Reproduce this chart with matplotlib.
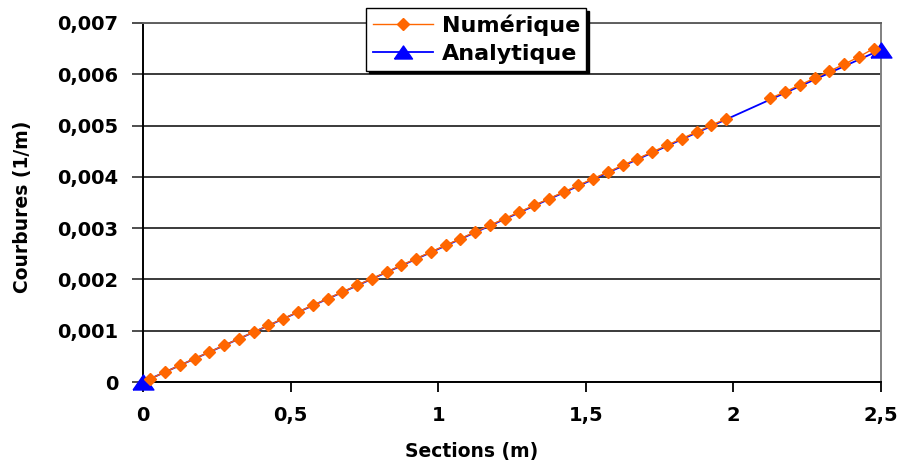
import numpy as np
import matplotlib
matplotlib.use("Agg")
import matplotlib.pyplot as plt

# ---- data ----
x_num = [0.025, 0.075, 0.125, 0.175, 0.225, 0.275, 0.325, 0.375, 0.425, 0.475,
         0.525, 0.575, 0.625, 0.675, 0.725, 0.775, 0.825, 0.875, 0.925, 0.975,
         1.025, 1.075, 1.125, 1.175, 1.225, 1.275, 1.325, 1.375, 1.425, 1.475,
         1.525, 1.575, 1.625, 1.675, 1.725, 1.775, 1.825, 1.875, 1.925, 1.975,
         2.025, 2.075,
         2.125, 2.175, 2.225, 2.275, 2.325, 2.375, 2.425, 2.475]
y_num = [0.000065, 0.000195, 0.000325, 0.000455, 0.000585, 0.000715, 0.000845, 0.000975, 0.001105, 0.001235,
         0.001365, 0.001495, 0.001625, 0.001755, 0.001885, 0.002015, 0.002145, 0.002275, 0.002405, 0.002535,
         0.002665, 0.002795, 0.002925, 0.003055, 0.003185, 0.003315, 0.003445, 0.003575, 0.003705, 0.003835,
         0.003965, 0.004095, 0.004225, 0.004355, 0.004485, 0.004615, 0.004745, 0.004875, 0.005005, 0.005135,
         np.nan, np.nan,
         0.005530, 0.005660, 0.005790, 0.005925, 0.006060, 0.006195, 0.006340, 0.006500]
x_ana = [0.0, 2.5]
y_ana = [0.0, 0.00648]

xticks = [0, 0.5, 1, 1.5, 2, 2.5]
xtick_labels = ["0", "0,5", "1", "1,5", "2", "2,5"]
yticks = [0, 0.001, 0.002, 0.003, 0.004, 0.005, 0.006, 0.007]
ytick_labels = ["0", "0,001", "0,002", "0,003", "0,004", "0,005", "0,006", "0,007"]

ORANGE = "#FF6600"
BLUE = "#0000FF"
TRI = [(-1, -0.72), (1, -0.72), (0, 0.72), (-1, -0.72)]   # flat Excel-style triangle

fig = plt.figure(figsize=(8.98, 4.66), dpi=100)
ax = fig.add_axes([143 / 898, 1 - 382 / 466, 738 / 898, 359 / 466])

ax.plot(x_ana, y_ana, color=BLUE, lw=1.3, marker=TRI, ms=15, mec=BLUE, mfc=BLUE,
        zorder=4, clip_on=False, label="Analytique")
ax.plot(x_num, y_num, color=ORANGE, lw=1.0, marker="D", ms=6, mec=ORANGE, mfc=ORANGE,
        zorder=5, clip_on=False, label="Numérique")

ax.set_xlim(0, 2.5)
ax.set_ylim(0, 0.007)
ax.set_xticks(xticks, xtick_labels)
ax.set_yticks(yticks, ytick_labels)
for lab in ax.get_xticklabels() + ax.get_yticklabels():
    lab.set_fontweight("bold")
ax.tick_params(axis="x", length=7, width=1.3, direction="out", pad=10, labelsize=14, color="black")
ax.tick_params(axis="y", length=8, width=1.3, direction="out", pad=10, labelsize=14, color="#404040")

ax.grid(axis="y", color="#3a3a3a", lw=1.4)
ax.set_axisbelow(True)
ax.spines["left"].set_color("black")
ax.spines["left"].set_linewidth(1.4)
ax.spines["bottom"].set_color("black")
ax.spines["bottom"].set_linewidth(1.4)
ax.spines["right"].set_color("#808080")
ax.spines["right"].set_linewidth(1.4)
ax.spines["top"].set_color("#606060")
ax.spines["top"].set_linewidth(1.4)

ax.set_xlabel("Sections (m)", fontsize=13.5, fontweight="bold", va="center")
ax.xaxis.set_label_coords((472 - 143) / 738, (382 - 452) / 359)
ax.set_ylabel("Courbures (1/m)", fontsize=13.5, fontweight="bold", va="center")
ax.yaxis.set_label_coords((22 - 143) / 738, (382 - 207) / 359)

h, l = ax.get_legend_handles_labels()
leg = ax.legend(h[::-1], l[::-1], loc="upper left",
                bbox_to_anchor=(366 / 898, 1 - 8 / 466), bbox_transform=fig.transFigure,
                borderaxespad=0, fancybox=False, framealpha=1, edgecolor="black",
                prop={"weight": "bold", "size": 16}, handlelength=2.7, handletextpad=0.4,
                labelspacing=0.35, borderpad=0.3,
                shadow={"color": "black", "alpha": 1})
leg.get_frame().set_linewidth(1.0)
leg.set_zorder(10)
leg.legend_handles[1].set_markersize(13)

fig.savefig("out.png", dpi=100)
